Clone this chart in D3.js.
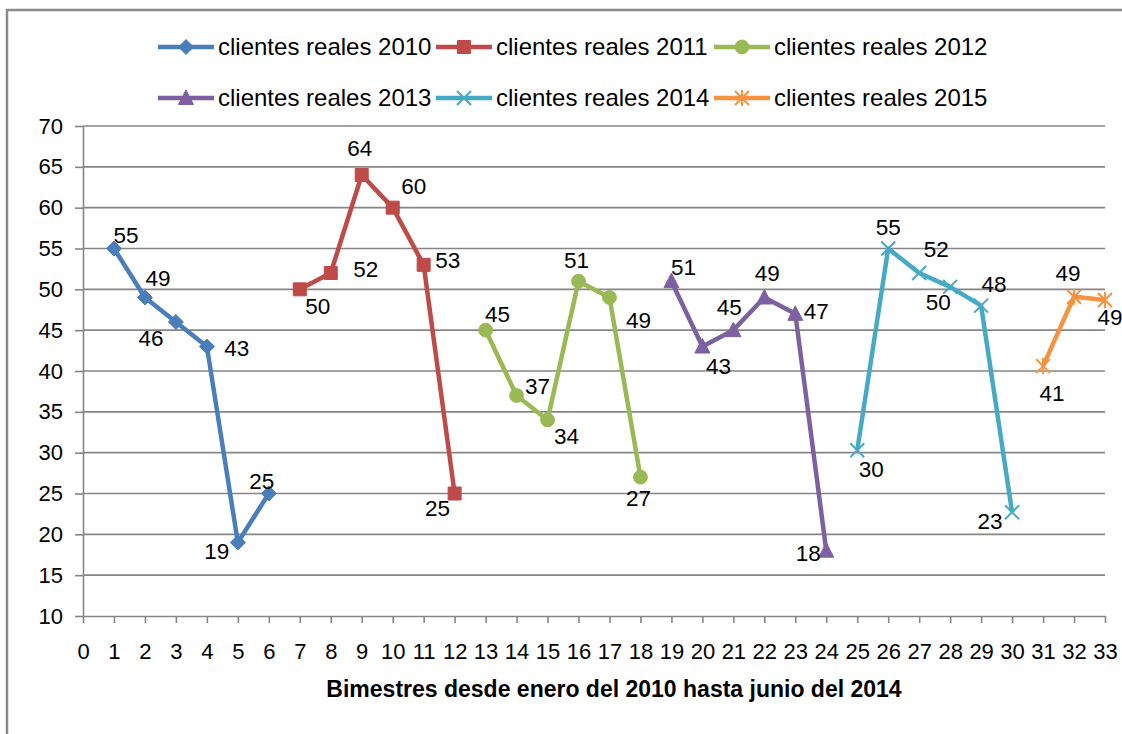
<!DOCTYPE html>
<html>
<head>
<meta charset="utf-8">
<script src="https://cdn.jsdelivr.net/npm/d3@7"></script>
<style>
  body { margin: 0; background: #fff; }
  svg text { font-family: "Liberation Sans", Arial, sans-serif; fill: #000; }
  .axis path, .axis line { stroke: #868686; stroke-width: 1.6px; }
  .axis text { font-size: 22px; }
  .grid line { stroke: #868686; stroke-width: 1.6px; }
  .dlabel { font-size: 22.5px; }
  .legend text { font-size: 24px; }
</style>
</head>
<body>
<svg id="chart" width="1122" height="734"></svg>
<script>
// series names + values (x = bimestre)
var seriesNames = ["clientes reales 2010", "clientes reales 2011", "clientes reales 2012",
                   "clientes reales 2013", "clientes reales 2014", "clientes reales 2015"];
var bim2010 = [1, 2, 3, 4, 5, 6],       val2010 = [55, 49, 46, 43, 19, 25];
var bim2011 = [7, 8, 9, 10, 11, 12],    val2011 = [50, 52, 64, 60, 53, 25];
var bim2012 = [13, 14, 15, 16, 17, 18], val2012 = [45, 37, 34, 51, 49, 27];
var bim2013 = [19, 20, 21, 22, 23, 24], val2013 = [51, 43, 45, 49, 47, 18];
var bim2014 = [25, 26, 27, 28, 29, 30], val2014 = [30.3, 55, 52, 50.3, 48, 22.7];
var bim2015 = [31, 32, 33],             val2015 = [40.6, 49.1, 48.7];

var yTicks = [10, 15, 20, 25, 30, 35, 40, 45, 50, 55, 60, 65, 70];
var xTicks = d3.range(0, 34);
var xTitle = "Bimestres desde enero del 2010 hasta junio del 2014";

// where each data label sits relative to its point (dx, dy)
var labelOff = [
  [[12,-13],[13,-19],[-25,16],[30,2],[-21,9],[-7,-12]],
  [[18,17],[35,-4],[-2,-27],[21,-22],[24,-5],[-17,15]],
  [[12,-16],[21,-9],[19,16],[-2,-21],[29,23],[-2,21]],
  [[12,-14],[16,20],[-4,-23],[3,-24],[21,-3],[-18,2]],
  [[14,19],[0,-21],[17,-24],[-12,15],[13,-22],[-22,9]],
  [[9,27],[-6,-24],[5,17]]
];

var COLORS = ["#4A7EBB", "#BE4B48", "#98B954", "#7D60A0", "#46AAC5", "#F69240"];
var MARKERS = ["diamond", "square", "circle", "triangle", "x", "star"];

var bims = [bim2010, bim2011, bim2012, bim2013, bim2014, bim2015];
var vals = [val2010, val2011, val2012, val2013, val2014, val2015];
var series = seriesNames.map(function(n, i) {
  return { name: n, color: COLORS[i], marker: MARKERS[i],
           points: bims[i].map(function(b, j) { return { x: b, y: vals[i][j], off: labelOff[i][j] }; }) };
});

var svg = d3.select("#chart");
var plot = { left: 83, right: 1105, top: 126, bottom: 616 };

var x = d3.scaleLinear().domain([0, 33]).range([plot.left, plot.right]);
var y = d3.scaleLinear().domain([10, 70]).range([plot.bottom, plot.top]);

// outer chart border (only top & left visible in the crop)
svg.append("path")
  .attr("d", "M7,740 L7,10 L1130,10")
  .attr("fill", "none").attr("stroke", "#8a8a8a").attr("stroke-width", 2.5);

// gridlines
svg.append("g").attr("class", "grid")
  .selectAll("line").data(yTicks.slice(1)).enter().append("line")
  .attr("x1", plot.left).attr("x2", plot.right)
  .attr("y1", function(d) { return y(d); }).attr("y2", function(d) { return y(d); });

svg.append("g").attr("class", "axis")
  .attr("transform", "translate(" + plot.left + ",0)")
  .call(d3.axisLeft(y).tickValues(yTicks).tickSize(8).tickSizeOuter(0).tickPadding(12));

svg.append("g").attr("class", "axis")
  .attr("transform", "translate(0," + plot.bottom + ")")
  .call(d3.axisBottom(x).tickValues(xTicks).tickSize(7).tickSizeOuter(0).tickPadding(20));

svg.selectAll(".axis .tick text").attr("fill", "#000");

svg.append("text")
  .attr("x", 614).attr("y", 689).attr("dy", "0.35em")
  .attr("text-anchor", "middle")
  .style("font-size", "23px").style("font-weight", "bold")
  .text(xTitle);

function markerPath(type) {
  if (type == "diamond") return "M0,-7.5L7.5,0L0,7.5L-7.5,0Z";
  if (type == "square") return "M-6.5,-6.5H6.5V6.5H-6.5Z";
  if (type == "circle") return d3.symbol(d3.symbolCircle, 150)();
  if (type == "triangle") return "M0,-8L7.5,6.5L-7.5,6.5Z";
  if (type == "x") return "M-7,-7L7,7M-7,7L7,-7";
  return "M-7,-7L7,7M-7,7L7,-7M0,-8V8";
}
function drawMarker(g, type, color) {
  var open = (type == "x" || type == "star");
  g.append("path").attr("d", markerPath(type))
    .attr("fill", open ? "none" : color)
    .attr("stroke", color)
    .attr("stroke-width", open ? 2 : 1);
}

var line = d3.line().x(function(d) { return x(d.x); }).y(function(d) { return y(d.y); });

series.forEach(function(s) {
  var g = svg.append("g");
  g.append("path").datum(s.points)
    .attr("d", line)
    .attr("fill", "none").attr("stroke", s.color)
    .attr("stroke-width", 4.5).attr("stroke-linejoin", "round");
  s.points.forEach(function(p) {
    var m = g.append("g").attr("transform", "translate(" + x(p.x) + "," + y(p.y) + ")");
    drawMarker(m, s.marker, s.color);
  });
  g.selectAll(".dlabel").data(s.points).enter().append("text")
    .attr("class", "dlabel")
    .attr("text-anchor", "middle").attr("dy", "0.35em")
    .attr("x", function(d) { return x(d.x) + d.off[0]; })
    .attr("y", function(d) { return y(d.y) + d.off[1]; })
    .text(function(d) { return Math.round(d.y); });
});

// legend, two rows of three
var legend = svg.append("g").attr("class", "legend");
series.forEach(function(s, i) {
  var lx = 158 + (i % 3) * 278, ly = i < 3 ? 47 : 98;
  var item = legend.append("g").attr("transform", "translate(" + lx + "," + ly + ")");
  item.append("line").attr("x1", 0).attr("x2", 56).attr("y1", 0).attr("y2", 0)
    .attr("stroke", s.color).attr("stroke-width", 4.5);
  var m = item.append("g").attr("transform", "translate(28,0)");
  drawMarker(m, s.marker, s.color);
  item.append("text").attr("x", 60).attr("dy", "0.35em").text(s.name);
});
</script>
</body>
</html>
